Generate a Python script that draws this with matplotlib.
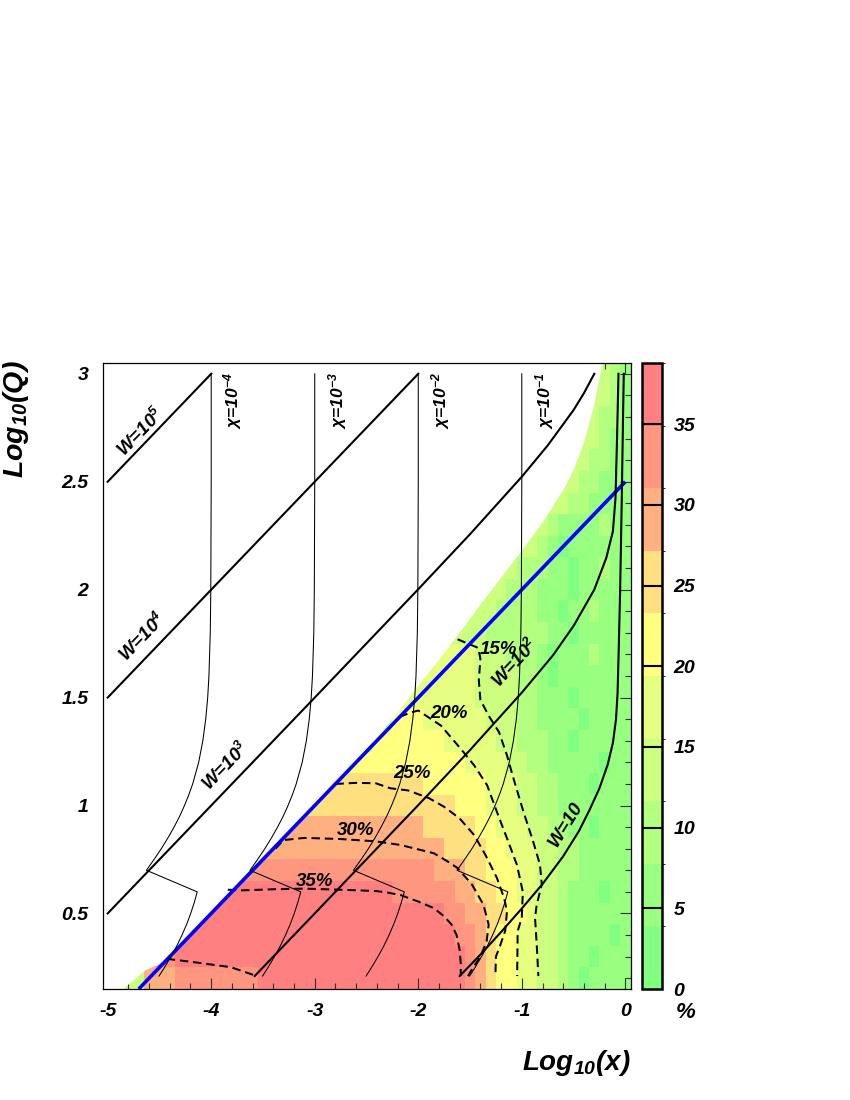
import numpy as np
import matplotlib
matplotlib.use("Agg")
import matplotlib.pyplot as plt
from matplotlib.colors import ListedColormap, BoundaryNorm
from matplotlib.ticker import MultipleLocator, FixedLocator

plt.rcParams['font.family'] = ['Liberation Sans', 'DejaVu Sans']
plt.rcParams['font.weight'] = 'bold'
plt.rcParams['font.style'] = 'italic'
plt.rcParams['mathtext.fontset'] = 'custom'
plt.rcParams['mathtext.rm'] = 'Liberation Sans:bold:italic'
plt.rcParams['mathtext.it'] = 'Liberation Sans:bold:italic'
plt.rcParams['mathtext.bf'] = 'Liberation Sans:bold:italic'
plt.rcParams['mathtext.sf'] = 'Liberation Sans:bold:italic'

# ---------------- data ----------------
x_ticks = [-5, -4, -3, -2, -1, 0]
x_tick_labels = ['-5', '-4', '-3', '-2', '-1', '0']
y_ticks = [0.5, 1.0, 1.5, 2.0, 2.5, 3.0]
y_tick_labels = ['0.5', '1', '1.5', '2', '2.5', '3']
cbar_ticks = [0, 5, 10, 15, 20, 25, 30, 35]
cbar_tick_labels = ['0', '5', '10', '15', '20', '25', '30', '35']
z_max = 38.8
band_colors = ['#80ff80', '#99ff80', '#b3ff80', '#ccff80', '#e6ff80',
               '#ffff80', '#ffe080', '#ffb080', '#ff9680', '#ff8080']

# heat-map cells: log10(x) bins of 0.1 centred on -5.0..0.0, log10(Q) rows 0.2..3.0
# each row: (first log10(x) centre, colour-band code per cell up to log10(x)=0)
heat_rows = [
    (-4.9, "333" + "777" + "88888888" + "99999999999999999999" + "8765544332101111"),
    (-4.7, "7788" + "9999999999999999999999999999" + "8765544332110111"),
    (-4.5, "8" + "9999999999999999999999999999" + "88765544332111101"),
    (-4.3, "99999999999999999999999999" + "887766554332111111"),
    (-4.1, "9999999999999999999" + "88888877665544332111011"),
    (-3.9, "888888888888888888888" + "777" + "6655544332211111"),
    (-3.7, "77777777777777777777" + "666655444332211111"),
    (-3.5, "7777777777777777" + "66666554443322110111"),
    (-3.3, "666666666666666" + "6655544433221111111"),
    (-3.1, "666666666666" + "55555544433221110111"),
    (-2.9, "33355555555555" + "4444332211111011"),
    (-2.7, "3335555555" + "444443322211011111"),
    (-2.5, "333555" + "444444" + "33322111101111"),
    (-2.3, "334444444" + "3333" + "22" + "111" + "0" + "11111"),
    (-2.0, "444444" + "3333" + "22" + "1" + "0" + "1111111"),
    (-1.9, "44444" + "333" + "222" + "1" + "0" + "111" + "2" + "111"),
    (-1.7, "3333" + "222222" + "11" + "0" + "11111"),
    (-1.5, "333" + "2222" + "11" + "0" + "11" + "2" + "111"),
    (-1.4, "333" + "222" + "111" + "0" + "11111"),
    (-1.2, "33" + "222" + "11" + "0" + "11" + "2" + "11"),
    (-1.0, "33" + "2" + "1" + "0" + "111111"),
    (-0.9, "33" + "2" + "1111" + "2" + "11"),
    (-0.7, "3322" + "1111"),
    (-0.6, "33" + "22" + "111"),
    (-0.5, "332211"),
    (-0.4, "33211"),
    (-0.4, "33221"),
    (-0.3, "3321"),
    (-0.3, "3321"),
]

# upper-left edge of the measured region
bnd_x = [-4.97, -4.85, -4.64, -4.50, -4.40, -4.0, -3.5, -3.0, -2.5, -2.2, -2.0, -1.8,
         -1.6, -1.4, -1.2, -1.0, -0.8, -0.6, -0.5, -0.4, -0.3, -0.232, -0.21]
bnd_y = [0.10, 0.15, 0.235, 0.265, 0.30, 0.50, 0.752, 1.005, 1.262, 1.43, 1.555, 1.675,
         1.80, 1.93, 2.055, 2.18, 2.31, 2.46, 2.553, 2.68, 2.855, 3.02, 3.10]

# y = 1 kinematic limit (blue)
blue_x = [-4.70, 0.0]
blue_y = [0.15, 2.50]

# constant-W lines
w5_x = [-5.0, -4.0]
w5_y = [2.5, 3.0]
w4_x = [-5.0, -2.0]
w4_y = [1.5, 3.0]
w3_x = [-5.0, -3.0, -2.0, -1.5, -1.0, -0.75, -0.5, -0.4, -0.3]
w3_y = [0.5, 1.5, 2.002, 2.257, 2.523, 2.668, 2.832, 2.910, 3.0]
w2_x = [-3.58, -3.0, -2.0, -1.5, -1.0, -0.7, -0.5, -0.3, -0.184, -0.12, -0.095, -0.08, -0.066]
w2_y = [0.21, 0.50, 1.002, 1.257, 1.523, 1.695, 1.832, 2.0, 2.147, 2.27, 2.424, 2.70, 3.0]
w1_x = [-1.6, -1.4, -1.2, -1.0, -0.8, -0.6, -0.45, -0.35, -0.25, -0.17, -0.12, -0.09,
        -0.075, -0.065, -0.05, -0.035, -0.022, -0.015]
w1_y = [0.21, 0.309, 0.414, 0.523, 0.636, 0.765, 0.88, 0.975, 1.08, 1.19, 1.29, 1.40,
        1.52, 1.70, 2.0, 2.4, 2.8, 3.0]

# constant-chi lines (shared log10(Q) samples)
chi_y = [0.21, 0.25, 0.30, 0.35, 0.40, 0.45, 0.50, 0.55, 0.60, 0.70, 0.75, 0.80, 0.85,
         0.90, 0.95, 1.00, 1.05, 1.10, 1.20, 1.30, 1.40, 1.50, 1.60, 1.80, 2.00, 2.50, 3.00]
chi4_x = [-4.504, -4.451, -4.389, -4.332, -4.282, -4.237, -4.198, -4.164, -4.135,
          -4.626, -4.552, -4.482, -4.418, -4.359, -4.305, -4.258, -4.216, -4.179,
          -4.121, -4.081, -4.053, -4.034, -4.022, -4.009, -4.004, -4.0, -4.0]
chi3_x = [-3.504, -3.451, -3.389, -3.332, -3.282, -3.237, -3.198, -3.164, -3.135,
          -3.626, -3.552, -3.482, -3.418, -3.359, -3.305, -3.258, -3.216, -3.179,
          -3.121, -3.081, -3.053, -3.034, -3.022, -3.009, -3.004, -3.0, -3.0]
chi2_x = [-2.504, -2.451, -2.389, -2.332, -2.282, -2.237, -2.198, -2.164, -2.135,
          -2.626, -2.552, -2.482, -2.418, -2.359, -2.305, -2.258, -2.216, -2.179,
          -2.121, -2.081, -2.053, -2.034, -2.022, -2.009, -2.004, -2.0, -2.0]
chi1_x = [-1.504, -1.451, -1.389, -1.332, -1.282, -1.237, -1.198, -1.164, -1.135,
          -1.626, -1.552, -1.482, -1.418, -1.359, -1.305, -1.258, -1.216, -1.179,
          -1.121, -1.081, -1.053, -1.034, -1.022, -1.009, -1.004, -1.0, -1.0]

# dashed iso-percentage contours
c35a_x = [-3.84, -3.70, -3.40, -3.10, -2.76, -2.41, -2.30, -2.17, -2.00, -1.85, -1.76,
          -1.68, -1.63, -1.60, -1.59, -1.59]
c35a_y = [0.61, 0.607, 0.612, 0.615, 0.61, 0.604, 0.597, 0.585, 0.555, 0.525, 0.49,
          0.45, 0.40, 0.33, 0.27, 0.21]
c35b_x = [-4.43, -4.13, -3.81, -3.59]
c35b_y = [0.29, 0.272, 0.251, 0.215]
c30_x = [-3.38, -3.30, -3.10, -2.76, -2.41, -2.17, -1.85, -1.72, -1.62, -1.48, -1.37,
         -1.32, -1.34, -1.40, -1.47, -1.52]
c30_y = [0.80, 0.84, 0.85, 0.845, 0.834, 0.817, 0.779, 0.742, 0.71, 0.633, 0.54,
         0.448, 0.37, 0.30, 0.25, 0.21]
c25_x = [-2.80, -2.60, -2.41, -2.27, -2.10, -1.90, -1.75, -1.60, -1.46, -1.35, -1.24,
         -1.17, -1.143, -1.16, -1.21, -1.25, -1.255]
c25_y = [1.10, 1.105, 1.103, 1.08, 1.07, 1.035, 0.994, 0.94, 0.863, 0.77, 0.664,
         0.57, 0.51, 0.42, 0.35, 0.30, 0.21]
c20_x = [-2.18, -2.08, -2.00, -1.78, -1.59, -1.46, -1.335, -1.24, -1.143, -1.047,
         -0.99, -1.00, -1.04, -1.045]
c20_y = [1.41, 1.43, 1.44, 1.37, 1.263, 1.186, 1.094, 0.97, 0.848, 0.725, 0.60,
         0.48, 0.418, 0.21]
c15_x = [-1.62, -1.52, -1.42, -1.40, -1.415, -1.40, -1.32, -1.22, -1.143, -1.08,
         -0.984, -0.89, -0.824, -0.807, -0.856, -0.872, -0.856, -0.84]
c15_y = [1.77, 1.75, 1.73, 1.68, 1.58, 1.49, 1.416, 1.34, 1.232, 1.125, 0.971,
         0.833, 0.725, 0.633, 0.541, 0.479, 0.357, 0.21]

contour_labels = ['15%', '20%', '25%', '30%', '35%']
contour_label_x = [-1.23, -1.70, -2.06, -2.61, -3.00]
contour_label_y = [1.725, 1.425, 1.15, 0.885, 0.646]

w_labels = [r'W=10$^{5}$', r'W=10$^{4}$', r'W=10$^{3}$', r'W=10$^{2}$', 'W=10']
w_label_x = [-4.68, -4.66, -3.86, -1.06, -0.57]
w_label_y = [2.73, 1.78, 1.18, 1.66, 0.91]
w_label_rot = [46, 46, 46, 47, 58]

chi_labels = [r'χ=10$^{-4}$', r'χ=10$^{-3}$', r'χ=10$^{-2}$', r'χ=10$^{-1}$']
chi_label_x = [-3.79, -2.78, -1.78, -0.78]
chi_label_y = [2.875, 2.875, 2.875, 2.875]

# ---------------- figure ----------------
W_PX, H_PX = 850, 1100
fig = plt.figure(figsize=(W_PX / 100, H_PX / 100), dpi=100)
ax_l, ax_r, ax_t, ax_b = 102.5, 630.5, 363, 989
ax = fig.add_axes([ax_l / W_PX, 1 - ax_b / H_PX, (ax_r - ax_l) / W_PX, (ax_b - ax_t) / H_PX])
cb_l, cb_r = 641.7, 662.3
cax = fig.add_axes([cb_l / W_PX, 1 - ax_b / H_PX, (cb_r - cb_l) / W_PX, (ax_b - ax_t) / H_PX])

# heat map
ncol, nrow = 51, 29
x_edges = np.linspace(-5.05, 0.05, ncol + 1)
y_edges = np.linspace(0.15, 3.05, nrow + 1)
band_w = z_max / len(band_colors)
Z = np.full((nrow, ncol), np.nan)
for r, (start, codes) in enumerate(heat_rows):
    c0 = int(round((start + 5.0) / 0.1))
    for k, ch in enumerate(codes):
        if c0 + k < ncol:
            Z[r, c0 + k] = (int(ch) + 0.5) * band_w

cmap = ListedColormap(band_colors)
cmap.set_bad((1, 1, 1, 0))
norm = BoundaryNorm(np.linspace(0, z_max, len(band_colors) + 1), cmap.N)
mesh = ax.pcolormesh(x_edges, y_edges, np.ma.masked_invalid(Z), cmap=cmap, norm=norm,
                     shading='flat', antialiased=False, edgecolors='none', zorder=1)

# white outside measured region
ax.fill(bnd_x + [-5.4, -5.4], bnd_y + [3.2, 0.05], facecolor='white',
        edgecolor='none', lw=0, zorder=2)

# dashed contours
dash = (0, (4.2, 2.4))
for cx, cy in [(c35a_x, c35a_y), (c35b_x, c35b_y), (c30_x, c30_y), (c25_x, c25_y),
               (c20_x, c20_y), (c15_x, c15_y)]:
    ax.plot(cx, cy, color='black', lw=1.45, linestyle=dash, zorder=3)

# blue line
ax.plot(blue_x, blue_y, color='#0000ff', lw=2.6, zorder=4, solid_capstyle='butt')

# W lines
for wx, wy in [(w5_x, w5_y), (w4_x, w4_y), (w3_x, w3_y), (w2_x, w2_y), (w1_x, w1_y)]:
    ax.plot(wx, wy, color='black', lw=1.5, zorder=5)

# chi lines
for cxs in [chi4_x, chi3_x, chi2_x, chi1_x]:
    ax.plot(cxs, chi_y, color='black', lw=0.75, zorder=5)

# labels
for t, x, y in zip(contour_labels, contour_label_x, contour_label_y):
    ax.text(x, y, t, fontsize=13.5, ha='center', va='center', zorder=6)
for t, x, y, rot in zip(w_labels, w_label_x, w_label_y, w_label_rot):
    ax.text(x, y, t, fontsize=13.5, ha='center', va='center', rotation=rot,
            rotation_mode='anchor', zorder=6)
for t, x, y in zip(chi_labels, chi_label_x, chi_label_y):
    ax.text(x, y, t, fontsize=12.5, ha='center', va='center', rotation=90, zorder=6)

ax.set_xlim(-5.05, 0.05)
ax.set_ylim(0.15, 3.05)
ax.xaxis.set_major_locator(FixedLocator(x_ticks))
ax.set_xticklabels(x_tick_labels)
ax.yaxis.set_major_locator(FixedLocator(y_ticks))
ax.set_yticklabels(y_tick_labels)
ax.xaxis.set_minor_locator(MultipleLocator(0.2))
ax.yaxis.set_minor_locator(MultipleLocator(0.1))
ax.tick_params(which='both', direction='in', top=True, right=True, width=0.8, color='#333333')
ax.tick_params(which='major', length=8)
ax.tick_params(which='minor', length=4)
ax.tick_params(axis='x', which='major', labelsize=14, pad=10)
ax.tick_params(axis='y', which='major', labelsize=14, pad=10)
for s in ax.spines.values():
    s.set_linewidth(0.9)
    s.set_zorder(7)

# colour bar
cb = fig.colorbar(mesh, cax=cax, ticks=cbar_ticks, spacing='proportional')
cax.set_yticklabels(cbar_tick_labels)
cax.tick_params(length=0, pad=8, labelsize=14)
for v in cbar_ticks[1:]:
    cax.axhline(v, color='black', lw=1.5)
cb.outline.set_linewidth(1.8)

# titles
fig.text(16 / W_PX, 1 - 360 / H_PX, r'Log$_{10}$(Q)', fontsize=20.5, rotation=90,
         ha='center', va='top')
fig.text(631 / W_PX, 1 - 1063 / H_PX, r'Log$_{10}$(x)', fontsize=20, ha='right', va='center')
fig.text(686 / W_PX, 1 - 1013 / H_PX, '%', fontsize=16, ha='center', va='center')

fig.savefig('out.png', dpi=100)
